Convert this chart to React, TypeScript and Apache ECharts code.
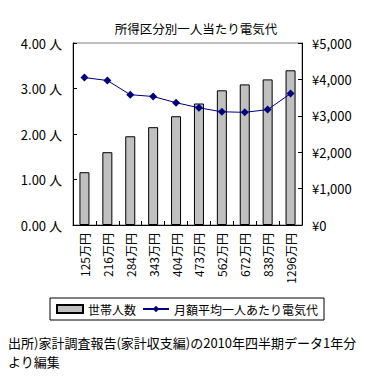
import React, { useEffect, useRef } from "react";
import * as echarts from "echarts";

const categories = ["125万円", "216万円", "284万円", "343万円", "404万円", "473万円", "562万円", "672万円", "838万円", "1296万円"];
const householdSize = [1.16, 1.6, 1.95, 2.15, 2.39, 2.67, 2.96, 3.09, 3.2, 3.4];
const electricityPerPerson = [4050, 3970, 3580, 3530, 3360, 3220, 3110, 3095, 3170, 3610];
const seriesNames = ["世帯人数", "月額平均一人あたり電気代"];
const titleText = "所得区分別一人当たり電気代";
const footerLines = ["出所)家計調査報告(家計収支編)の2010年四半期データ1年分", "より編集"];

const FONT = "'Noto Sans CJK JP', sans-serif";

export default function App() {
  const ref = useRef<HTMLDivElement>(null);
  useEffect(() => {
    if (!ref.current) return;
    const chart = echarts.init(ref.current, null, { renderer: "svg" });
    chart.setOption({
      animation: false,
      backgroundColor: "#ffffff",
      textStyle: { fontFamily: FONT, color: "#000" },
      title: {
        text: titleText,
        left: 191,
        textAlign: "center",
        top: 17,
        textStyle: { fontSize: 12.5, fontWeight: "normal", color: "#000", fontFamily: FONT },
      },
      grid: { left: 73, right: 78, top: 43, bottom: 164, show: true, borderColor: "#808080", borderWidth: 1, backgroundColor: "transparent" },
      legend: {
        left: 50,
        top: 298,
        width: 270,
        padding: [5, 6, 5, 6],
        borderColor: "#000",
        borderWidth: 1,
        itemWidth: 26,
        itemHeight: 8,
        itemGap: 6,
        textStyle: { fontSize: 12, color: "#000", fontFamily: FONT },
        data: [
          { name: seriesNames[0], icon: "rect" },
          { name: seriesNames[1] },
        ],
      },
      xAxis: {
        type: "category",
        data: categories,
        axisLine: { lineStyle: { color: "#000", width: 1 } },
        axisTick: { show: true, inside: true, length: 4, lineStyle: { color: "#000" } },
        axisLabel: { rotate: 90, fontSize: 12, color: "#000", margin: 8, fontFamily: FONT },
      },
      yAxis: [
        {
          type: "value",
          min: 0,
          max: 4,
          interval: 1,
          axisLine: { show: true, lineStyle: { color: "#000" } },
          axisTick: { show: true, inside: true, length: 4, lineStyle: { color: "#000" } },
          splitLine: { show: false },
          axisLabel: { fontSize: 13, color: "#000", margin: 11, fontFamily: FONT, formatter: (v: number) => v.toFixed(2) + " 人" },
        },
        {
          type: "value",
          min: 0,
          max: 5000,
          interval: 1000,
          position: "right",
          axisLine: { show: true, lineStyle: { color: "#000" } },
          axisTick: { show: true, inside: true, length: 4, lineStyle: { color: "#000" } },
          splitLine: { show: false },
          axisLabel: { fontSize: 13, color: "#000", margin: 10, fontFamily: FONT, formatter: (v: number) => "¥" + v.toLocaleString("en-US") },
        },
      ],
      series: [
        {
          name: seriesNames[0],
          type: "bar",
          data: householdSize,
          barWidth: 10,
          itemStyle: { color: "#c0c0c0", borderColor: "#000", borderWidth: 1 },
        },
        {
          name: seriesNames[1],
          type: "line",
          yAxisIndex: 1,
          data: electricityPerPerson,
          symbol: "diamond",
          symbolSize: 8,
          lineStyle: { color: "#000080", width: 1 },
          itemStyle: { color: "#000080" },
        },
      ],
      graphic: footerLines.map((t, i) => ({
        type: "text",
        left: 8,
        top: 336 + i * 19,
        style: { text: t, fontSize: 13, fill: "#000", fontFamily: FONT },
      })),
    });
    return () => chart.dispose();
  }, []);
  return <div ref={ref} style={{ position: "fixed", left: 0, top: 0, width: 380, height: 389 }} />;
}
